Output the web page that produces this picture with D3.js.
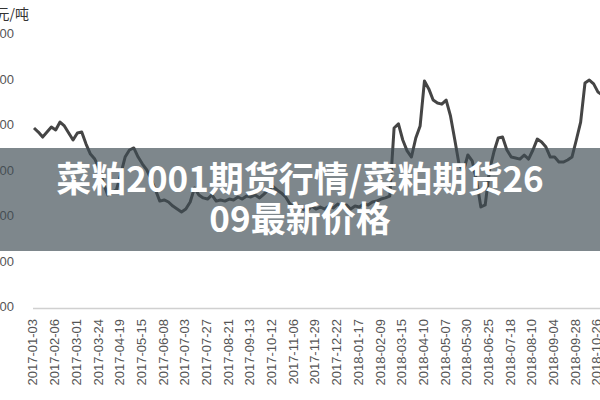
<!DOCTYPE html>
<html><head><meta charset="utf-8">
<script src="https://cdn.jsdelivr.net/npm/d3@7/dist/d3.min.js"></script>
<style>body{margin:0;background:#fff}svg{display:block}</style>
</head><body><svg id="chart" width="600" height="400"></svg>
<script>
const xLabels = ["2017-01-03","2017-02-06","2017-03-01","2017-03-24","2017-04-19","2017-05-15","2017-06-08","2017-07-03","2017-07-27","2017-08-21","2017-09-13","2017-10-12","2017-11-06","2017-11-29","2017-12-22","2018-01-17","2018-02-09","2018-03-15","2018-04-10","2018-05-07","2018-05-30","2018-06-25","2018-07-18","2018-08-10","2018-09-04","2018-09-28","2018-10-26"];
const yTicks = [1800,2000,2200,2400,2600,2800,3000];
const pointsPerLabel = 5;
const prices = [2595,2577,2555,2577,2599,2586,2621,2604,2573,2542,2573,2577,2524,2480,2458,2419,2353,2300,2313,2322,
2392,2467,2498,2507,2467,2436,2410,2370,2322,2273,2278,2269,2251,2238,2225,2238,2269,2331,2300,2287,
2282,2300,2273,2278,2273,2282,2278,2291,2282,2295,2291,2300,2287,2304,2322,2339,2322,2309,2291,2260,
2247,2251,2238,2229,2251,2238,2247,2238,2251,2243,2260,2247,2256,2238,2251,2247,2260,2256,2269,2273,
2282,2287,2295,2595,2613,2542,2494,2467,2551,2604,2802,2767,2718,2705,2700,2718,2648,2542,2432,2406,
2476,2450,2366,2247,2256,2410,2489,2551,2555,2498,2467,2463,2458,2476,2458,2498,2546,2533,2511,2467,
2467,2445,2445,2454,2467,2542,2621,2793,2806,2789,2753,2740];
const unitLabel = "元/吨";
const titleLines = ["菜粕2001期货行情/菜粕期货26","09最新价格"];

const svg = d3.select("#chart");
const x = d3.scaleLinear().domain([0, xLabels.length - 1]).range([34, 598]);
const y = d3.scaleLinear().domain([1800, 3000]).range([308.5, 36]);

// x baseline
svg.append("line").attr("x1", 33).attr("x2", 600).attr("y1", y(1800)).attr("y2", y(1800))
  .attr("stroke", "#d0d0d0").attr("stroke-width", 1.5);

// y tick labels
svg.append("g").selectAll("text").data(yTicks).join("text")
  .attr("x", 14).attr("y", d => y(d) - 1)
  .attr("text-anchor", "end").attr("dominant-baseline", "middle")
  .attr("font-family", "Arial, 'Liberation Sans', sans-serif").attr("font-size", 13)
  .attr("fill", "#555").text(d => d);

svg.append("text").attr("x", 29).attr("y", 15).attr("text-anchor", "end")
  .attr("dominant-baseline", "middle")
  .attr("font-family", "'Noto Sans CJK SC', sans-serif").attr("font-size", 14)
  .attr("fill", "#333").text(unitLabel);

// x tick labels
svg.append("g").selectAll("text").data(xLabels).join("text")
  .attr("transform", (d, i) => `translate(${x(i)},319) rotate(-90)`)
  .attr("text-anchor", "end").attr("dominant-baseline", "middle")
  .attr("font-family", "Arial, 'Liberation Sans', sans-serif").attr("font-size", 13)
  .attr("fill", "#555").text(d => d);

// price line
const line = d3.line().x((d, i) => x(i / pointsPerLabel)).y(d => y(d));
svg.append("path").datum(prices).attr("d", line)
  .attr("fill", "none").attr("stroke", "#454545").attr("stroke-width", 3)
  .attr("stroke-linejoin", "round");

// overlay band
svg.append("rect").attr("x", 0).attr("y", 148).attr("width", 600).attr("height", 103)
  .attr("fill", "rgb(62,76,83)").attr("fill-opacity", 0.67);

svg.append("g").selectAll("text").data(titleLines).join("text")
  .attr("x", 300).attr("y", (d, i) => 182 + i * 40)
  .attr("text-anchor", "middle").attr("dominant-baseline", "middle")
  .attr("font-family", "'Noto Sans CJK SC', 'Noto Sans', sans-serif").attr("font-weight", 700)
  .attr("font-size", 35).attr("fill", "#fff").text(d => d);
</script></body></html>
